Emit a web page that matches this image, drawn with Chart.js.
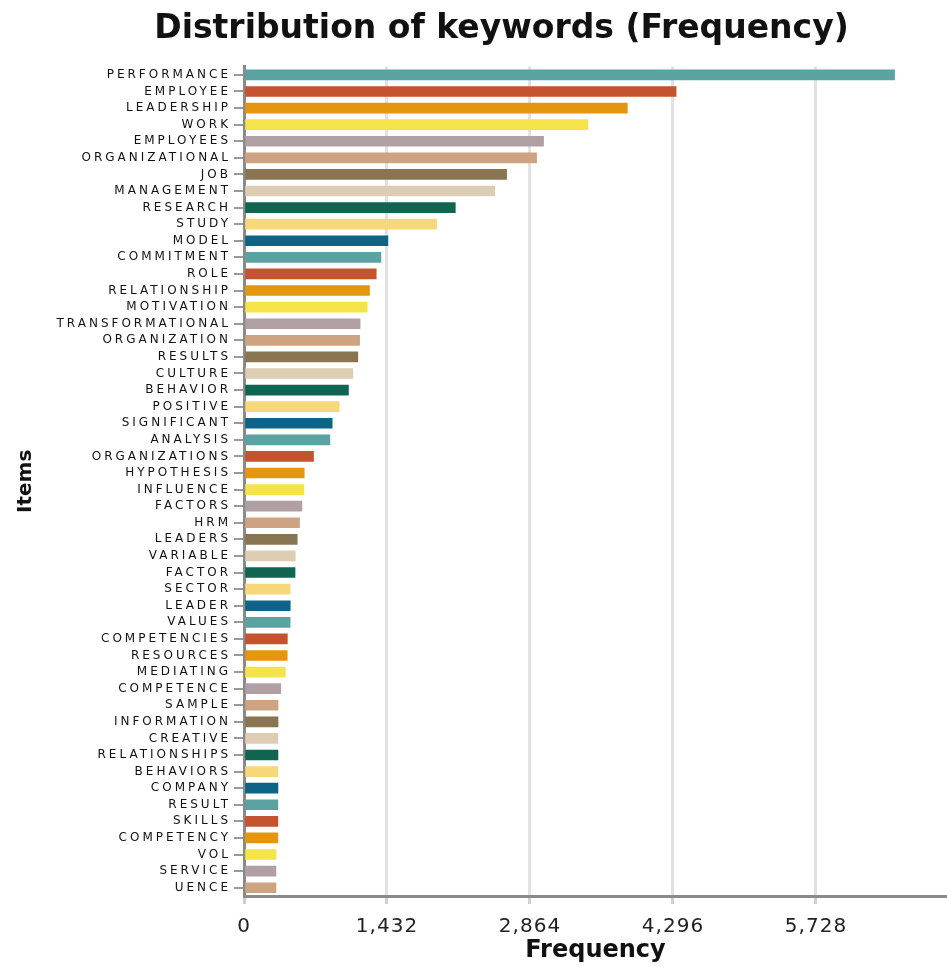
<!DOCTYPE html>
<html>
<head>
<meta charset="utf-8">
<title>Distribution of keywords (Frequency)</title>
<script src="https://cdn.jsdelivr.net/npm/chart.js@4"></script>
<style>
	html, body { margin: 0; padding: 0; background: #ffffff; }
	#chart { display: block; }
</style>
</head>
<body>
<canvas id="chart" width="947" height="967"></canvas>
<script>
// キーワード（上から順）
const categories = [
	'PERFORMANCE', 'EMPLOYEE', 'LEADERSHIP', 'WORK', 'EMPLOYEES',
	'ORGANIZATIONAL', 'JOB', 'MANAGEMENT', 'RESEARCH', 'STUDY',
	'MODEL', 'COMMITMENT', 'ROLE', 'RELATIONSHIP', 'MOTIVATION',
	'TRANSFORMATIONAL', 'ORGANIZATION', 'RESULTS', 'CULTURE', 'BEHAVIOR',
	'POSITIVE', 'SIGNIFICANT', 'ANALYSIS', 'ORGANIZATIONS', 'HYPOTHESIS',
	'INFLUENCE', 'FACTORS', 'HRM', 'LEADERS', 'VARIABLE',
	'FACTOR', 'SECTOR', 'LEADER', 'VALUES', 'COMPETENCIES',
	'RESOURCES', 'MEDIATING', 'COMPETENCE', 'SAMPLE', 'INFORMATION',
	'CREATIVE', 'RELATIONSHIPS', 'BEHAVIORS', 'COMPANY', 'RESULT',
	'SKILLS', 'COMPETENCY', 'VOL', 'SERVICE', 'UENCE'
];

// 出現頻度
const frequencies = [
	6515, 4327, 3839, 3444, 3000,
	2930, 2630, 2511, 2116, 1928,
	1441, 1371, 1324, 1257, 1234,
	1163, 1158, 1140, 1090, 1046,
	953, 883, 860, 696, 603,
	600, 580, 556, 533, 513,
	511, 463, 463, 462, 434,
	433, 414, 368, 341, 341,
	340, 340, 340, 340, 339,
	339, 339, 321, 320, 320
];

// X軸の目盛り
const frequencyTicks = [0, 1432, 2864, 4296, 5728];
const frequencyMax = 7040;

// 11色で繰り返すパレット
const palette = [
	'#5ba3a0', '#c5532f', '#e5960f', '#f5e449', '#b0a0a3', '#cea382',
	'#8a7552', '#ddcdb2', '#0f654f', '#f6d77a', '#0d6486'
];

const barColors = categories.map(function(c, i) {
	return palette[i % palette.length];
});

// 軸ラベルの字間を広げる（描画時のみ）
function spaceLabels(scale, spacing) {
	if (scale._spaced) return;
	const orig = scale.drawLabels;
	scale.drawLabels = function(area) {
		const ctx = this.ctx;
		ctx.save();
		ctx.letterSpacing = spacing;
		orig.call(this, area);
		ctx.restore();
	};
	scale._spaced = true;
}

const layoutTweaks = {
	id: 'layoutTweaks',
	afterLayout: function(chart) {
		// タイトルは少し右寄せ
		chart.titleBlock.left = 56;
	},
	beforeDraw: function(chart) {
		spaceLabels(chart.scales.y, '3px');
		spaceLabels(chart.scales.x, '1px');
	}
};

Chart.defaults.font.family = '"DejaVu Sans", Verdana, sans-serif';
Chart.defaults.color = '#222';

new Chart(document.getElementById('chart'), {
	type: 'bar',
	data: {
		labels: categories,
		datasets: [{
			label: 'Frequency',
			data: frequencies,
			backgroundColor: barColors,
			borderWidth: 0,
			barThickness: 10
		}]
	},
	options: {
		indexAxis: 'y',
		responsive: false,
		animation: false,
		devicePixelRatio: 1,
		layout: { padding: 0 },
		plugins: {
			legend: { display: false },
			tooltip: { enabled: false },
			title: {
				display: true,
				text: 'Distribution of keywords (Frequency)',
				color: '#111',
				font: { size: 33, weight: 'bold' },
				padding: { top: 10, bottom: 17 }
			}
		},
		scales: {
			x: {
				min: 0,
				max: frequencyMax,
				afterBuildTicks: function(scale) {
					scale.ticks = frequencyTicks.map(function(v) { return { value: v }; });
				},
				afterFit: function(scale) {
					scale.height = 71;
				},
				grid: {
					color: '#e2e2e2',
					lineWidth: 3,
					tickLength: 8,
					tickColor: '#cfcfcf'
				},
				border: { color: '#8a8a8a', width: 3 },
				ticks: {
					padding: 11,
					font: { size: 20 },
					color: '#222',
					callback: function(v) { return v.toLocaleString('en-US'); }
				},
				title: {
					display: true,
					text: 'Frequency',
					color: '#111',
					font: { size: 24, weight: 'bold' },
					padding: { top: 0, bottom: 2 }
				}
			},
			y: {
				afterFit: function(scale) {
					scale.width = 244;
				},
				grid: {
					offset: false,
					drawOnChartArea: false,
					tickLength: 10,
					tickColor: '#9a9a9a',
					lineWidth: 2
				},
				border: { color: '#8a8a8a', width: 3 },
				ticks: {
					padding: 3,
					autoSkip: false,
					font: { size: 12 },
					color: '#111'
				},
				title: {
					display: true,
					text: 'Items',
					color: '#111',
					font: { size: 20, weight: 'bold' },
					padding: { top: 14 }
				}
			}
		}
	},
	plugins: [layoutTweaks]
});
</script>
</body>
</html>
